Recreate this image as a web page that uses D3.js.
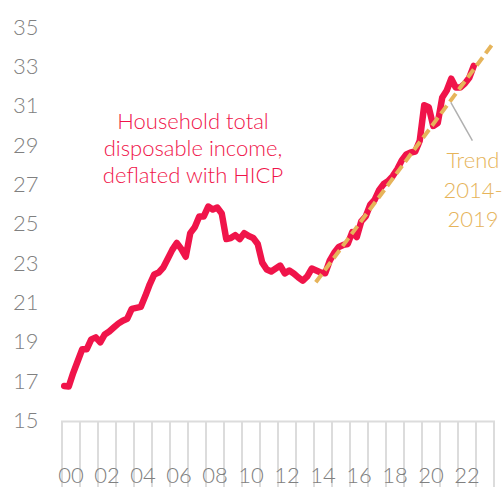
<!DOCTYPE html>
<html>
<head>
<meta charset="utf-8">
<script src="https://cdn.jsdelivr.net/npm/d3@7"></script>
<style>
  body { margin: 0; background: #fff; }
  text { font-family: Lato, "Open Sans", sans-serif; font-weight: 300; }
</style>
</head>
<body>
<div class="canvas"></div>
<script>
// quarterly income, billions (deflated with HICP), 2000Q1 .. 2022Q4
const years = d3.range(2000, 2023);
const income = [
    16.73, 16.7, 17.4, 18.0,
    18.6, 18.6, 19.1, 19.2,
    18.95, 19.35, 19.5, 19.7,
    19.9, 20.05, 20.15, 20.65,
    20.7, 20.75, 21.3, 21.9,
    22.4, 22.5, 22.75, 23.2,
    23.65, 24.0, 23.7, 23.3,
    24.5, 24.8, 25.35, 25.35,
    25.85, 25.7, 25.8, 25.5,
    24.2, 24.25, 24.4, 24.2,
    24.5, 24.35, 24.25, 23.95,
    23.0, 22.65, 22.55, 22.7,
    22.85, 22.45, 22.6, 22.45,
    22.25, 22.08, 22.3, 22.7,
    22.6, 22.5, 22.46, 23.1,
    23.5, 23.8, 23.9, 23.95,
    24.55, 24.3, 25.1, 25.35,
    25.95, 26.2, 26.7, 27.0,
    27.15, 27.4, 27.75, 28.2,
    28.5, 28.6, 28.65, 29.2,
    31.0, 30.9, 29.95, 30.1,
    31.4, 31.75, 32.35, 31.9,
    31.9, 32.1, 32.4, 33.0
];
const trendYears = [2014.1, 2023.95];
const trendValues = [22.0, 34.15];
const yTicks = [15, 17, 19, 21, 23, 25, 27, 29, 31, 33, 35];
const xLabelYears = d3.range(2000, 2023, 2);
const incomeLabel = ["Household total", "disposable income,", "deflated with HICP"];
const trendLabel = ["Trend", "2014-", "2019"];

const red = "rgb(240, 20, 74)";
const gold = "rgb(230, 180, 90)";
const grey = "#808080";

const width = 503, height = 487;

const svg = d3
    .select(".canvas")
    .append("svg")
    .attr("width", width)
    .attr("height", height);

const x = d3.scaleLinear().domain([2000, 2024]).range([62, 494]);
const y = d3.scaleLinear().domain([15, 35]).range([420, 26.6]);

// year bands grid below the plot
const grid = svg.append("g").attr("class", "grid");
grid.selectAll("line")
    .data(d3.range(2000, 2025))
    .enter()
    .append("line")
    .attr("x1", (d) => x(d))
    .attr("x2", (d) => x(d))
    .attr("y1", y(15) + 1.5)
    .attr("y2", height)
    .attr("stroke", "#dcdcdc")
    .attr("stroke-width", 2);
grid.append("line")
    .attr("x1", x(2000) - 1)
    .attr("x2", x(2024) + 1)
    .attr("y1", y(15) + 1.5)
    .attr("y2", y(15) + 1.5)
    .attr("stroke", "#dcdcdc")
    .attr("stroke-width", 2);

// x labels
svg.append("g")
    .selectAll("text")
    .data(xLabelYears)
    .enter()
    .append("text")
    .attr("x", (d) => x(d + 0.5))
    .attr("y", 475)
    .attr("dy", "0.36em")
    .attr("text-anchor", "middle")
    .attr("font-size", 22)
    .attr("fill", grey)
    .text((d) => String(d % 100).padStart(2, "0"));

// y labels
svg.append("g")
    .selectAll("text")
    .data(yTicks)
    .enter()
    .append("text")
    .attr("x", 13)
    .attr("y", (d) => y(d))
    .attr("dy", "0.36em")
    .attr("font-size", 22)
    .attr("fill", grey)
    .text((d) => d);

// income line
const points = income.map((v, i) => ({ t: 2000 + (i + 0.5) / 4, v: v }));
const lineGen = d3
    .line()
    .x((d) => x(d.t))
    .y((d) => y(d.v));

svg.append("path")
    .datum(points)
    .attr("d", lineGen)
    .attr("fill", "none")
    .attr("stroke", red)
    .attr("stroke-width", 6.5)
    .attr("stroke-linejoin", "round")
    .attr("stroke-linecap", "round");

// trend
const trendPts = trendYears.map((t, i) => ({ t: t, v: trendValues[i] }));
svg.append("path")
    .datum(trendPts)
    .attr("d", lineGen)
    .attr("fill", "none")
    .attr("stroke", gold)
    .attr("stroke-width", 4)
    .attr("stroke-dasharray", "10,5");

// trend leader line
const slope = (trendValues[1] - trendValues[0]) / (trendYears[1] - trendYears[0]);
const tA = 2021.6;
svg.append("line")
    .attr("x1", x(tA))
    .attr("y1", y(trendValues[0] + slope * (tA - trendYears[0])) + 2)
    .attr("x2", x(2022.8))
    .attr("y2", y(29.2))
    .attr("stroke", "#b0b0b0")
    .attr("stroke-width", 1.5);

// annotations
svg.append("g")
    .selectAll("text")
    .data(incomeLabel)
    .enter()
    .append("text")
    .attr("x", 193)
    .attr("y", (d, i) => 129 + i * 27)
    .attr("text-anchor", "middle")
    .attr("font-size", 22)
    .attr("fill", red)
    .text((d) => d);

svg.append("g")
    .selectAll("text")
    .data(trendLabel)
    .enter()
    .append("text")
    .attr("x", 473)
    .attr("y", (d, i) => 168 + i * 29.5)
    .attr("text-anchor", "middle")
    .attr("font-size", 22)
    .attr("fill", gold)
    .text((d) => d);
</script>
</body>
</html>
